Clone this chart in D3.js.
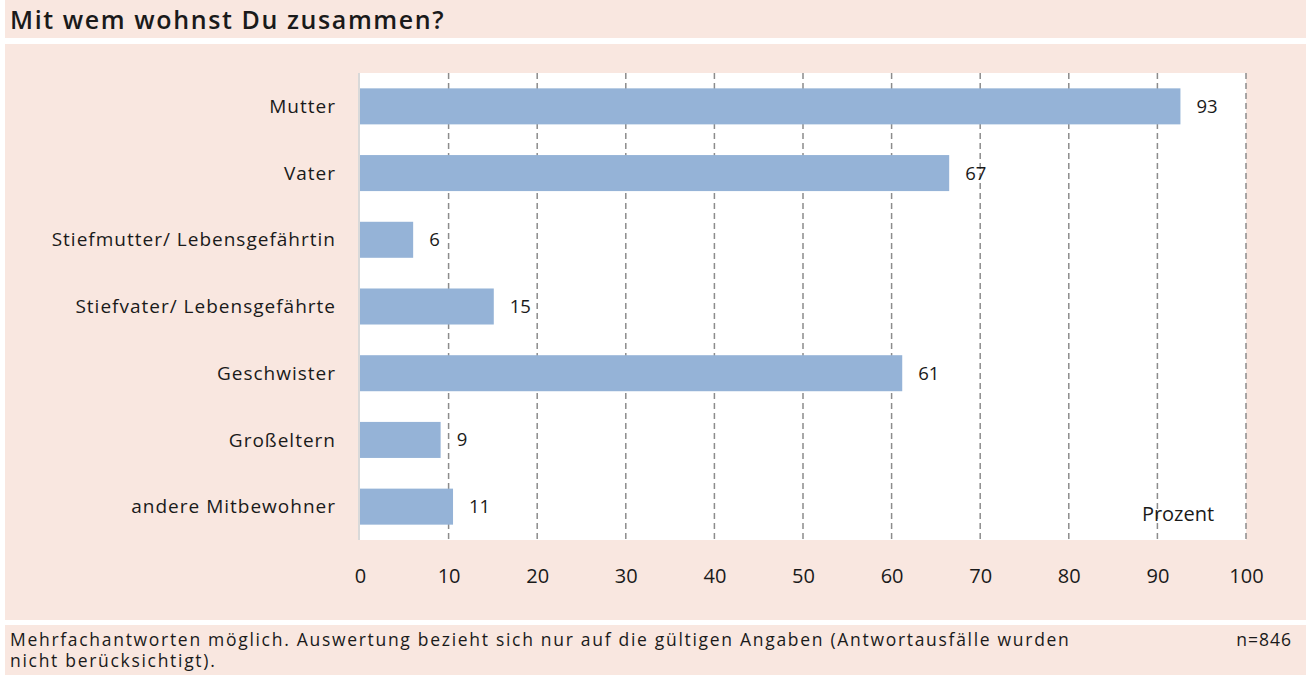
<!DOCTYPE html>
<html>
<head>
<meta charset="utf-8">
<script src="https://cdn.jsdelivr.net/npm/d3@7"></script>
<style>
  body { margin: 0; background: #fff; }
  svg text { font-family: "Open Sans", "Noto Sans", sans-serif; fill: #1a1a1a; }
</style>
</head>
<body>
<script>
// ** Chart data
var categories = ['Mutter', 'Vater', 'Stiefmutter/ Lebensgefährtin', 'Stiefvater/ Lebensgefährte',
                  'Geschwister', 'Großeltern', 'andere Mitbewohner'];
var values = [92.6, 66.5, 6.0, 15.1, 61.2, 9.1, 10.5];
var valueLabels = ['93', '67', '6', '15', '61', '9', '11'];
var tickValues = [0, 10, 20, 30, 40, 50, 60, 70, 80, 90, 100];

var W = 1306, H = 675;
var pink = '#f9e7e0';

var svg = d3.select('body').append('svg')
    .attr('width', W)
    .attr('height', H);

//** Background bands
svg.append('rect').attr('x', 5).attr('y', 0).attr('width', W - 5).attr('height', 38).attr('fill', pink);
svg.append('rect').attr('x', 5).attr('y', 44).attr('width', W - 5).attr('height', 576).attr('fill', pink);
svg.append('rect').attr('x', 5).attr('y', 625).attr('width', W - 5).attr('height', 50).attr('fill', pink);

svg.append('text')
    .attr('x', 10).attr('y', 29)
    .style('font-weight', 600)
    .style('font-size', '25px')
    .style('letter-spacing', '1.6px')
    .text('Mit wem wohnst Du zusammen?');

//** Plot area
var pLeft = 360, pRight = 1246, pTop = 73, pBottom = 540;

var x = d3.scaleLinear().domain([0, 100]).range([pLeft, pRight]);
var y = d3.scaleBand().domain(categories).range([pTop, pBottom]).paddingInner(0.46).paddingOuter(0.23);

svg.append('rect')
    .attr('x', pLeft).attr('y', pTop)
    .attr('width', pRight - pLeft).attr('height', pBottom - pTop)
    .attr('fill', '#fff');

svg.append('line')
    .attr('x1', pLeft - 1).attr('x2', pLeft - 1)
    .attr('y1', pTop).attr('y2', pBottom)
    .attr('stroke', '#d9d9d9').attr('stroke-width', 2);

// ** grid lines
svg.append('g').selectAll('line')
    .data(tickValues.slice(1))
    .enter().append('line')
    .attr('x1', function(d){ return x(d); })
    .attr('x2', function(d){ return x(d); })
    .attr('y1', pTop).attr('y2', pBottom)
    .attr('stroke', '#8c8c8c')
    .attr('stroke-width', 1.5)
    .attr('stroke-dasharray', '6,4');

// ** bars
svg.append('g').selectAll('rect')
    .data(values)
    .enter().append('rect')
    .attr('x', x(0))
    .attr('y', function(d, i){ return y(categories[i]); })
    .attr('width', function(d){ return x(d) - x(0); })
    .attr('height', y.bandwidth())
    .attr('fill', '#95b3d7');

// ** value labels
svg.append('g').selectAll('text')
    .data(values)
    .enter().append('text')
    .attr('x', function(d){ return x(d) + 16; })
    .attr('y', function(d, i){ return y(categories[i]) + y.bandwidth() / 2; })
    .attr('dy', '0.35em')
    .style('font-size', '18.5px')
    .text(function(d, i){ return valueLabels[i]; });

// ** category labels
svg.append('g').selectAll('text')
    .data(categories)
    .enter().append('text')
    .attr('x', 336)
    .attr('y', function(d){ return y(d) + y.bandwidth() / 2; })
    .attr('dy', '0.35em')
    .attr('text-anchor', 'end')
    .style('font-size', '19px')
    .style('letter-spacing', '1px')
    .text(function(d){ return d; });

// ** x axis labels
var xAxis = svg.append('g')
    .attr('transform', 'translate(0,' + pBottom + ')')
    .call(d3.axisBottom(x).tickValues(tickValues).tickSize(0).tickPadding(29));
xAxis.select('.domain').remove();
xAxis.selectAll('text')
    .style('font-family', '"Open Sans", "Noto Sans", sans-serif')
    .style('font-size', '20px')
    .style('fill', '#1a1a1a');

svg.append('text')
    .attr('x', 1178).attr('y', 521)
    .attr('text-anchor', 'middle')
    .style('font-size', '20px')
    .text('Prozent');

// ** footnote
svg.append('text')
    .attr('x', 10).attr('y', 646)
    .style('font-size', '17.5px')
    .style('letter-spacing', '1.7px')
    .text('Mehrfachantworten möglich. Auswertung bezieht sich nur auf die gültigen Angaben (Antwortausfälle wurden');
svg.append('text')
    .attr('x', 10).attr('y', 667)
    .style('font-size', '17.5px')
    .style('letter-spacing', '1.7px')
    .text('nicht berücksichtigt).');
svg.append('text')
    .attr('x', 1292).attr('y', 646)
    .attr('text-anchor', 'end')
    .style('font-size', '17.5px')
    .style('letter-spacing', '1px')
    .text('n=846');
</script>
</body>
</html>
